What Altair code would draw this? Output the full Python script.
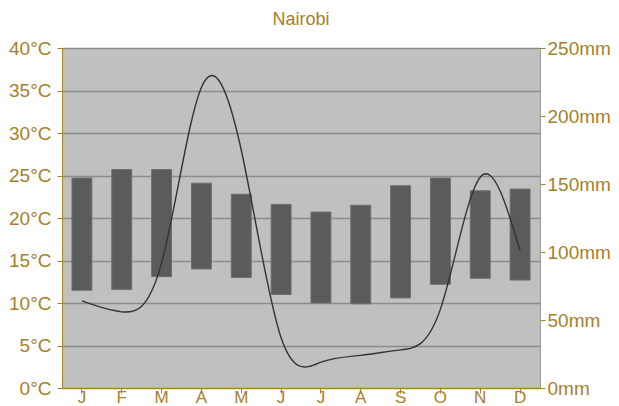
import altair as alt
import pandas as pd

months = ["Jan", "Feb", "Mar", "Apr", "May", "Jun", "Jul", "Aug", "Sep", "Oct", "Nov", "Dec"]
temp_max = [24.7, 25.7, 25.7, 24.1, 22.8, 21.6, 20.7, 21.5, 23.8, 24.7, 23.2, 23.4]
temp_min = [11.5, 11.6, 13.1, 14.0, 13.0, 11.0, 10.0, 9.9, 10.6, 12.2, 12.9, 12.7]
precip = [64, 56, 92, 221, 175, 37, 19, 24, 28, 58, 155, 101]
temp_ticks = [0, 5, 10, 15, 20, 25, 30, 35, 40]
precip_ticks = [0, 50, 100, 150, 200, 250]

df = pd.DataFrame({"month": months, "tmax": temp_max, "tmin": temp_min, "precip": precip})

GOLD = "#A6802A"
FONT = "Liberation Sans"

x = alt.X("month:N", sort=months, title=None,
          scale=alt.Scale(paddingInner=0.5, paddingOuter=0.25),
          axis=alt.Axis(labelAngle=0, labelExpr="substring(datum.label, 0, 1)", labelFontSize=17,
                        domainColor=GOLD, tickColor=GOLD, tickSize=5, labelPadding=-4))

bars = alt.Chart(df).mark_bar(color="#5B5B5B", stroke="#6E6E6E", strokeWidth=1).encode(
    x=x,
    y=alt.Y("tmin:Q", title=None, scale=alt.Scale(domain=[0, 40]),
            axis=alt.Axis(values=temp_ticks, labelExpr="datum.value + '°C'", grid=True,
                          gridColor="#8C8C8C", gridWidth=1.5, domainColor=GOLD, tickColor=GOLD,
                          tickSize=5, labelPadding=6)),
    y2="tmax:Q",
)

line = alt.Chart(df).mark_line(color="#333333", strokeWidth=1.4, interpolate="natural").encode(
    x=x,
    y=alt.Y("precip:Q", title=None, scale=alt.Scale(domain=[0, 250]),
            axis=alt.Axis(orient="right", values=precip_ticks, labelExpr="datum.value + 'mm'",
                          grid=False, domain=False, tickColor=GOLD, tickSize=5, labelPadding=2)),
)

chart = alt.layer(bars, line).resolve_scale(y="independent").properties(
    width=478, height=340,
    padding={"left": 0, "right": 0, "top": 3, "bottom": 0},
    title=alt.TitleParams("Nairobi", fontSize=18, color=GOLD, font=FONT, fontWeight="normal", offset=10),
).configure_view(fill="#C0C0C0", stroke="#9A9A9A").configure_axis(
    labelFont=FONT, labelFontSize=19, labelColor=GOLD,
)

chart.save("out.html", embed_options={"renderer": "svg", "actions": False})
